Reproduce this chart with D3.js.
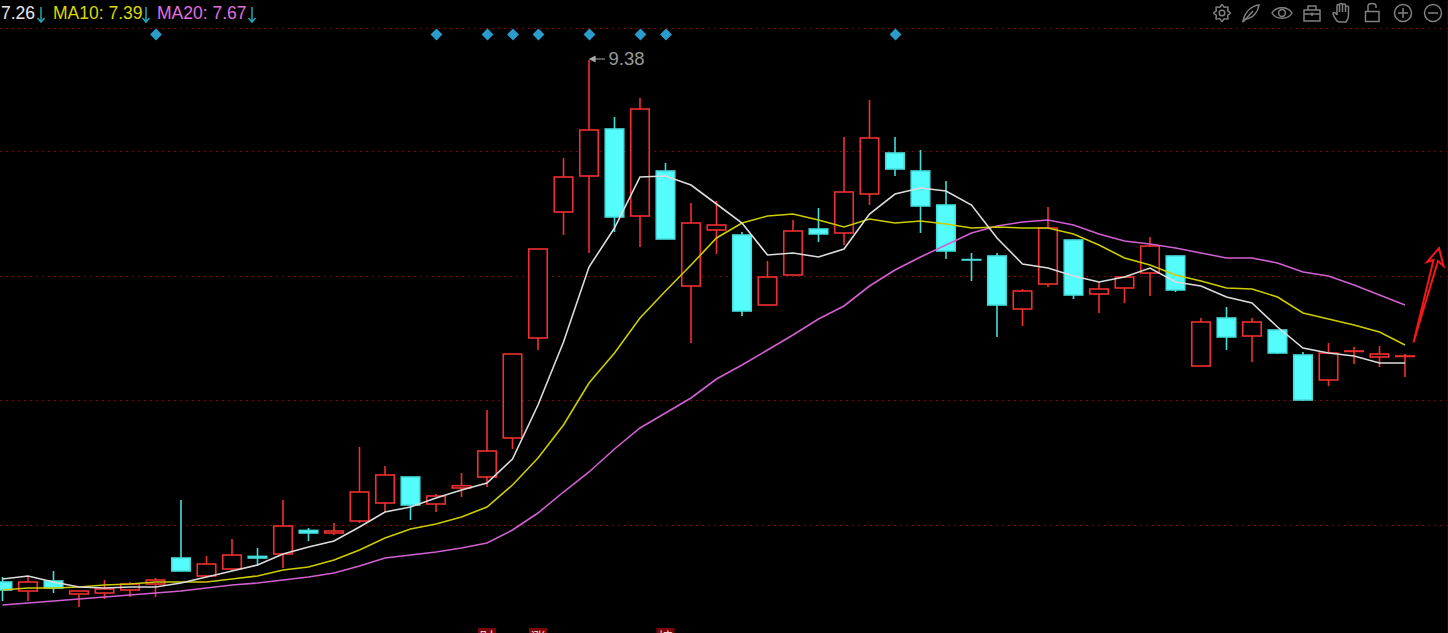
<!DOCTYPE html>
<html>
<head>
<meta charset="utf-8">
<script src="https://cdn.jsdelivr.net/npm/d3@7"></script>
<style>
  html, body { margin: 0; padding: 0; background: #000; overflow: hidden; }
  svg { display: block; }
  text { font-family: "Liberation Sans", Arial, sans-serif; }
</style>
</head>
<body>
<svg id="chart"></svg>
<script>
// Daily candles
var opens = [5.726,5.663,5.733,5.642,5.649,5.67,5.712,5.894,5.768,5.817,5.905,5.922,6.087,6.069,6.153,6.279,6.461,6.272,6.384,6.461,
  6.734,7.434,8.316,8.568,8.897,8.288,8.603,7.798,8.19,8.155,7.665,7.875,8.197,8.169,8.442,8.729,8.603,8.365,7.983,8.008,
  7.637,7.812,8.12,7.742,7.784,7.889,8.008,7.238,7.574,7.448,7.49,7.315,7.14,7.34,7.301,7.305];
var closes = [5.67,5.726,5.684,5.663,5.677,5.712,5.74,5.803,5.852,5.915,5.894,6.118,6.069,6.083,6.356,6.475,6.265,6.328,6.4,6.643,
  7.322,8.057,8.561,8.89,8.281,9.037,8.127,8.239,8.225,7.623,7.861,8.183,8.162,8.456,8.834,8.617,8.358,8.043,7.98,7.665,
  7.763,8.204,7.735,7.777,7.861,8.078,7.77,7.546,7.441,7.546,7.329,7,7.329,7.343,7.322,7.308];
var highs = [5.761,5.761,5.803,5.663,5.74,5.726,5.754,6.3,5.908,6.027,5.964,6.3,6.104,6.139,6.671,6.538,6.461,6.342,6.489,6.93,
  7.322,8.057,8.694,9.38,8.981,9.114,8.659,8.379,8.393,8.176,7.973,8.26,8.344,8.841,9.1,8.841,8.75,8.533,8.029,8.029,
  7.777,8.351,8.12,7.826,7.861,8.141,8.008,7.574,7.651,7.574,7.49,7.336,7.399,7.371,7.378,7.322];
var lows = [5.593,5.593,5.649,5.551,5.607,5.621,5.621,5.803,5.768,5.803,5.838,5.824,6.013,6.055,6.139,6.216,6.16,6.216,6.321,6.391,
  6.657,7.35,8.155,8.029,8.176,8.071,8.127,7.399,8.022,7.588,7.665,7.875,8.106,8.085,8.365,8.568,8.169,7.987,7.833,7.441,
  7.518,7.791,7.707,7.609,7.679,7.728,7.756,7.238,7.35,7.266,7.322,6.993,7.098,7.252,7.231,7.161];

// Moving averages
var ma5 = [5.747,5.768,5.726,5.691,5.684,5.691,5.691,5.719,5.761,5.803,5.845,5.922,5.971,6.013,6.111,6.216,6.251,6.314,6.37,6.419,
  6.587,6.965,7.406,7.931,8.204,8.561,8.568,8.505,8.372,8.239,8.015,8.029,8.001,8.057,8.302,8.442,8.484,8.463,8.365,8.134,
  7.952,7.924,7.868,7.826,7.861,7.924,7.826,7.798,7.721,7.679,7.511,7.364,7.329,7.308,7.259,7.259];
var ma10 = [5.67,5.684,5.684,5.691,5.705,5.712,5.726,5.726,5.726,5.747,5.768,5.81,5.831,5.88,5.95,6.034,6.097,6.132,6.181,6.251,
  6.405,6.594,6.825,7.119,7.329,7.574,7.763,7.945,8.134,8.239,8.288,8.302,8.26,8.211,8.267,8.239,8.253,8.232,8.204,8.211,
  8.204,8.204,8.162,8.085,7.994,7.945,7.875,7.833,7.784,7.777,7.721,7.609,7.567,7.525,7.476,7.385];
var ma20 = [5.565,5.579,5.593,5.607,5.621,5.635,5.649,5.663,5.684,5.705,5.719,5.74,5.761,5.789,5.838,5.894,5.915,5.936,5.964,5.999,
  6.09,6.209,6.356,6.496,6.657,6.804,6.909,7.014,7.147,7.245,7.35,7.455,7.567,7.658,7.798,7.91,8.001,8.085,8.169,8.218,
  8.246,8.26,8.225,8.162,8.113,8.092,8.064,8.029,7.994,7.994,7.959,7.896,7.868,7.805,7.735,7.665];

var gridPrices = [6.125, 7.0, 7.868, 8.743, 9.604];
var signalDays = [6, 17, 19, 20, 21, 23, 25, 26, 35];
var newsDays = [19, 21, 26];
var newsLabels = ["财", "涨", "榜"];
var legendLabels = ["7.26", "MA10: 7.39", "MA20: 7.67"];
var highDay = 23;
var highLabel = "9.38";

var width = 1448, height = 633;
var red = "#f03030", cyan = "#54fcfc", wickCyan = "#45dcdc";

var svg = d3.select("#chart").attr("width", width).attr("height", height);
svg.append("rect").attr("width", width).attr("height", height).attr("fill", "#000");

// Scales
var x = d3.scaleLinear().domain([0, opens.length - 1]).range([2.5, 1405]);
var y = d3.scaleLinear().domain([9.8, 5.369]).range([0, height]);

// Dotted grid, made with an axis
var grid = svg.append("g")
  .call(d3.axisRight(y).tickValues(gridPrices).tickSize(width).tickFormat(""));
grid.select(".domain").remove();
grid.selectAll("line")
  .attr("stroke", "#7a0808")
  .attr("stroke-width", 1)
  .attr("stroke-dasharray", "2,4");

svg.append("line")
  .attr("x1", 1447.5).attr("x2", 1447.5)
  .attr("y1", 0).attr("y2", height)
  .attr("stroke", "#300000");

// Candles
var days = d3.range(opens.length);
var candles = svg.append("g").selectAll("g").data(days).enter().append("g");

function isUp(i) { return closes[i] >= opens[i]; }

candles.append("line")
  .attr("x1", function(i) { return x(i); })
  .attr("x2", function(i) { return x(i); })
  .attr("y1", function(i) { return y(highs[i]); })
  .attr("y2", function(i) { return y(lows[i]); })
  .attr("stroke", function(i) { return isUp(i) ? red : wickCyan; })
  .attr("stroke-width", 1.6);

candles.append("rect")
  .attr("x", function(i) { return x(i) - 9.25; })
  .attr("width", 18.5)
  .attr("y", function(i) { return y(Math.max(opens[i], closes[i])); })
  .attr("height", function(i) { return Math.abs(y(opens[i]) - y(closes[i])); })
  .attr("fill", function(i) { return isUp(i) ? "#000" : cyan; })
  .attr("stroke", function(i) { return isUp(i) ? red : wickCyan; })
  .attr("stroke-width", 1.6);

// MA lines sit on top of the candles
var line = d3.line()
  .x(function(d, i) { return x(i); })
  .y(function(d) { return y(d); });

var maSeries = [
  { values: ma20, color: "#d060d0" },
  { values: ma10, color: "#cccc00" },
  { values: ma5, color: "#dcdcdc" }
];
svg.append("g").selectAll("path").data(maSeries).enter().append("path")
  .attr("d", function(d) { return line(d.values); })
  .attr("fill", "none")
  .attr("stroke", function(d) { return d.color; })
  .attr("stroke-width", 1.6);

// Signal diamonds above the chart
svg.append("g").selectAll("path").data(signalDays).enter().append("path")
  .attr("d", d3.symbol().type(d3.symbolDiamond2).size(90))
  .attr("transform", function(i) { return "translate(" + (x(i) + 0.5) + ",34.5)"; })
  .attr("fill", "#2a9bcb");

// Highest price note
svg.append("path")
  .attr("d", "M" + (x(highDay) + 1) + "," + y(9.387) + "h15m-15,0l5,-2.5v5z")
  .attr("stroke", "#a8a8a8")
  .attr("stroke-width", 1.2)
  .attr("fill", "#a8a8a8");
svg.append("text")
  .attr("x", x(highDay) + 19.5)
  .attr("y", y(9.387) + 5.5)
  .attr("font-size", 18.5)
  .attr("fill", "#9a9a9a")
  .text(highLabel);

// Legend on the top left
var legend = [
  { x: 1, color: "#e8e8e8", arrow: 41 },
  { x: 53, color: "#d8d800", arrow: 146 },
  { x: 157, color: "#e070e0", arrow: 252 }
];
svg.append("g").selectAll("text").data(legend).enter().append("text")
  .attr("x", function(d) { return d.x; })
  .attr("y", 18.5)
  .attr("font-size", 17.5)
  .attr("fill", function(d) { return d.color; })
  .text(function(d, i) { return legendLabels[i]; });
svg.append("g").selectAll("path").data(legend).enter().append("path")
  .attr("d", function(d) { return "M" + d.arrow + ",7V22M" + (d.arrow - 3.5) + ",18L" + d.arrow + ",22L" + (d.arrow + 3.5) + ",18"; })
  .attr("fill", "none")
  .attr("stroke", "#22a6b8")
  .attr("stroke-width", 1.5);

// Clipped news tags on the bottom edge, cut off the same way in the source
var tags = svg.append("g").selectAll("g").data(newsDays).enter().append("g");
tags.append("rect")
  .attr("x", function(i) { return x(i) - 9; })
  .attr("y", 628)
  .attr("width", 18)
  .attr("height", 10)
  .attr("fill", "#7a0808");
tags.append("text")
  .attr("x", function(i) { return x(i); })
  .attr("y", 643)
  .attr("text-anchor", "middle")
  .attr("font-size", 15)
  .style("font-family", '"Noto Sans CJK SC"')
  .attr("fill", "#f0d0d0")
  .text(function(i, n) { return newsLabels[n]; });

// Hand drawn red arrow on the right
svg.append("path")
  .attr("d", "M1413.5,342.5L1433.5,260L1427,262L1439,248L1443.5,266L1438,261Z")
  .attr("fill", "none")
  .attr("stroke", "#f01818")
  .attr("stroke-width", 2)
  .attr("stroke-linejoin", "miter");

// Toolbar icons on the top right
var iconColor = "#808080";
var icons = svg.append("g").attr("fill", "none").attr("stroke", iconColor).attr("stroke-width", 1.5);

var gearRadii = d3.range(16).map(function(k) { return k % 2 ? 6.2 : 8.4; });
icons.append("path")
  .attr("transform", "translate(1222,13)")
  .attr("d", d3.lineRadial()
    .angle(function(d, k) { return k * Math.PI / 8; })
    .radius(function(d) { return d; })
    .curve(d3.curveCardinalClosed)(gearRadii));
icons.append("circle").attr("cx", 1222).attr("cy", 13).attr("r", 2.8);

// feather
icons.append("path").attr("d", "M1243,21C1245,12 1251,6 1259,5C1258,12 1253,18 1246,19Z");
icons.append("path").attr("d", "M1243,22L1253,11");

// eye
icons.append("path").attr("d", "M1272,13C1276,6 1288,6 1292,13C1288,20 1276,20 1272,13Z");
icons.append("circle").attr("cx", 1282).attr("cy", 13).attr("r", 3.4);

// toolbox
icons.append("path").attr("d", "M1304,10H1320V21H1304ZM1308,10V6H1316V10M1304,14H1320M1312,12.5V16");

// hand
icons.append("path").attr("d", "M1337,21C1335,18 1333,16 1333,13C1334,12 1336,13 1337,15V6C1337,4 1339.5,4 1339.5,6V12V4.5C1339.5,3 1342.5,3 1342.5,4.5V12V5C1342.5,3.5 1345.5,3.5 1345.5,5V12V7C1345.5,5.5 1348.5,5.5 1348.5,7V15C1348.5,18 1347.5,20 1346,22H1339Z");

// open lock
icons.append("path").attr("d", "M1365.5,11.5H1379V21.5H1365.5ZM1368,11.5V6C1368,2.5 1376,2.5 1376,6V8");

// zoom in and out
icons.append("circle").attr("cx", 1403).attr("cy", 13).attr("r", 8.5);
icons.append("path").attr("d", "M1398,13H1408M1403,8V18");
icons.append("circle").attr("cx", 1433).attr("cy", 13).attr("r", 8.5);
icons.append("path").attr("d", "M1428,13H1438");
</script>
</body>
</html>
